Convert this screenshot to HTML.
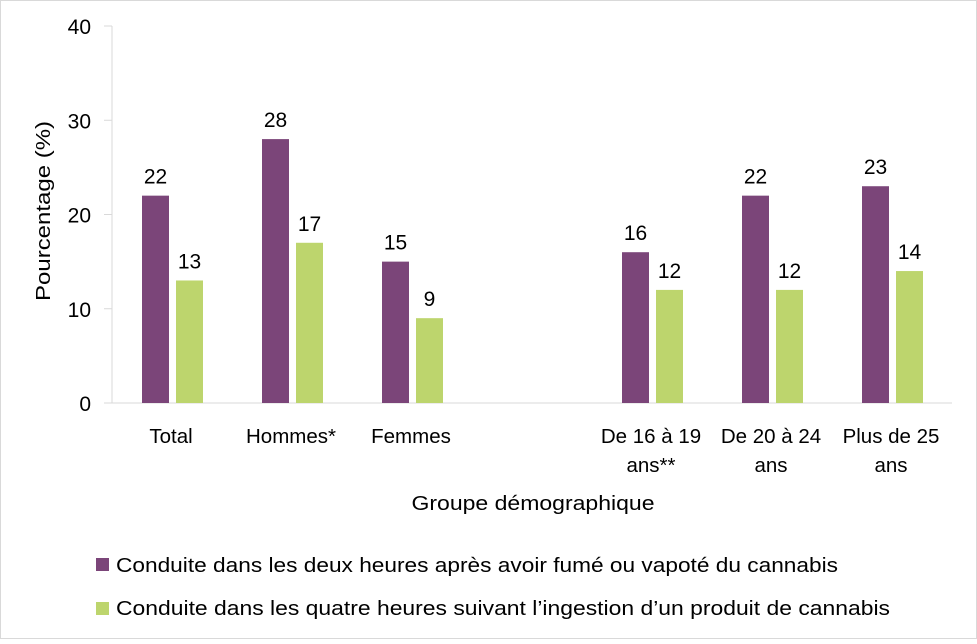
<!DOCTYPE html>
<html><head><meta charset="utf-8"><style>
body{margin:0;background:#fff}
svg text{font-family:"Liberation Sans",sans-serif;fill:#000}
</style></head><body>
<svg width="977" height="639" viewBox="0 0 977 639" id="chart">
<rect x="0.5" y="0.5" width="976" height="638" fill="#fff" stroke="#d9d9d9"/>
<g id="axes"></g>
<g id="bars"></g>
<text x="533" y="510" text-anchor="middle" font-size="20" textLength="243" lengthAdjust="spacingAndGlyphs">Groupe démographique</text>
<text transform="translate(50,211) rotate(-90)" text-anchor="middle" font-size="20" textLength="180" lengthAdjust="spacingAndGlyphs">Pourcentage (%)</text>
<rect x="96" y="558" width="13" height="13" fill="#7b4579"/>
<text x="116" y="572" font-size="20" textLength="722" lengthAdjust="spacingAndGlyphs">Conduite dans les deux heures après avoir fumé ou vapoté du cannabis</text>
<rect x="96" y="602" width="13" height="13" fill="#bdd56d"/>
<text x="116" y="615" font-size="20" textLength="774" lengthAdjust="spacingAndGlyphs">Conduite dans les quatre heures suivant l’ingestion d’un produit de cannabis</text>
</svg>
<script>
const categories=[["Total"],["Hommes*"],["Femmes"],null,["De 16 à 19","ans**"],["De 20 à 24","ans"],["Plus de 25","ans"]];
const smoked=[22,28,15,null,16,22,23];
const ingested=[13,17,9,null,12,12,14];
const yTicks=[0,10,20,30,40];
const NS="http://www.w3.org/2000/svg";
const x0=112,slot=120,y0=403,yTop=26,ymax=40;
const y=v=>y0-(v/ymax)*(y0-yTop);
const cx=i=>x0+slot*(i+0.5);
function mk(t,a,p){const e=document.createElementNS(NS,t);for(const k in a)e.setAttribute(k,a[k]);p.appendChild(e);return e;}
const ax=document.getElementById('axes'),bg=document.getElementById('bars');
const yl=mk('line',{x1:x0,y1:yTop,x2:x0,y2:y0,stroke:'#d9d9d9'},ax);


const xl=mk('line',{x1:x0,y1:y0,x2:x0+slot*categories.length,y2:y0,stroke:'#d9d9d9'},ax);


yTicks.forEach(t=>{
  const tk=mk('line',{x1:x0-8,y1:y(t),x2:x0,y2:y(t),stroke:'#d9d9d9'},ax);
  
  
  const tx=mk('text',{x:91,y:y(t)+8,'text-anchor':'end','font-size':21},ax);
  tx.textContent=t;
  
  
});
categories.forEach((c,i)=>{
  if(!c)return;
  c.forEach((ln,j)=>{
    const tx=mk('text',{x:cx(i)-1,y:443+j*29,'text-anchor':'middle','font-size':20.5},ax);
    tx.textContent=ln;
    
    
  });
  [[smoked,'#7b4579',-30],[ingested,'#bdd56d',4]].forEach(([arr,col,off],s)=>{
    const v=arr[i];
    const r=mk('rect',{x:cx(i)+off,y:y(v),width:27,height:y0-y(v),fill:col},bg);
    
    
    const l=mk('text',{x:cx(i)+off+13.5,y:y(v)-12,'text-anchor':'middle','font-size':21},bg);
    l.textContent=v;
    
    
  });
});
</script>
</body></html>
